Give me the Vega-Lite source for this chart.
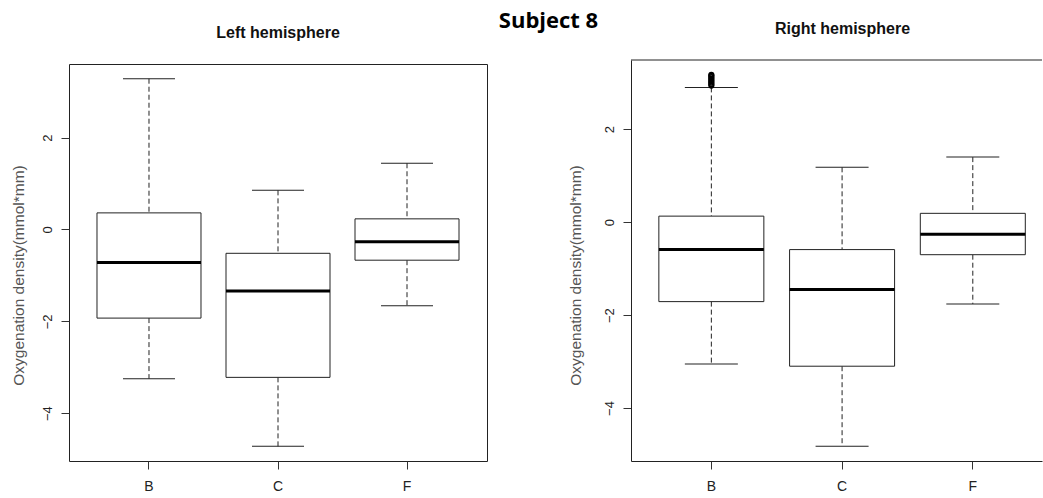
{
  "$schema": "https://vega.github.io/schema/vega-lite/v6.json",
  "background": "white",
  "padding": {"left": 10, "top": 9, "right": 0, "bottom": 0},
  "title": {"text": "Subject 8", "font": "Open Sans", "fontSize": 22, "fontWeight": "bold", "color": "#000", "anchor": "middle", "dx": 22, "offset": -12},
  "datasets": {
    "stats": [
      {"hemisphere": "Left", "group": "B", "lo": -3.25, "q1": -1.93, "med": -0.72, "q3": 0.36, "hi": 3.28},
      {"hemisphere": "Left", "group": "C", "lo": -4.72, "q1": -3.22, "med": -1.34, "q3": -0.52, "hi": 0.85},
      {"hemisphere": "Left", "group": "F", "lo": -1.66, "q1": -0.67, "med": -0.27, "q3": 0.23, "hi": 1.44},
      {"hemisphere": "Right", "group": "B", "lo": -3.05, "q1": -1.71, "med": -0.59, "q3": 0.13, "hi": 2.9},
      {"hemisphere": "Right", "group": "C", "lo": -4.82, "q1": -3.1, "med": -1.45, "q3": -0.59, "hi": 1.18},
      {"hemisphere": "Right", "group": "F", "lo": -1.76, "q1": -0.7, "med": -0.26, "q3": 0.19, "hi": 1.4}
    ],
    "outliers": [
      {"group": "B", "value": 2.94},
      {"group": "B", "value": 2.97},
      {"group": "B", "value": 3.0},
      {"group": "B", "value": 3.03},
      {"group": "B", "value": 3.06},
      {"group": "B", "value": 3.09},
      {"group": "B", "value": 3.12},
      {"group": "B", "value": 3.15},
      {"group": "B", "value": 3.17}
    ]
  },
  "spacing": 80,
  "hconcat": [
    {
      "width": 418,
      "height": 397,
      "title": {"text": "Left hemisphere", "offset": 23},
      "data": {"name": "stats"},
      "transform": [{"filter": "datum.hemisphere === 'Left'"}],
      "encoding": {
        "x": {"field": "group", "type": "nominal", "title": null,
              "scale": {"type": "band", "paddingInner": 0.194, "paddingOuter": 0.217},
              "axis": {"labelAngle": 0, "labelPadding": 10}}
      },
      "layer": [
        {"mark": {"type": "rule", "color": "#222", "strokeDash": [5, 3]},
         "encoding": {"y": {"field": "hi", "type": "quantitative", "title": "Oxygenation density(mmol*mm)",
                            "scale": {"domain": [-5.04, 3.6], "nice": false, "zero": false},
                            "axis": {"values": [-4, -2, 0, 2], "labelAngle": 270, "labelAlign": "center", "labelBaseline": "bottom", "labelPadding": 7, "titlePadding": 15, "titleY": 211}},
                      "y2": {"field": "q3"}}},
        {"mark": {"type": "rule", "color": "#222", "strokeDash": [5, 3]},
         "encoding": {"y": {"field": "q1", "type": "quantitative", "title": "Oxygenation density(mmol*mm)"}, "y2": {"field": "lo"}}},
        {"mark": {"type": "bar", "size": 104, "fill": "white", "stroke": "#222", "strokeWidth": 1},
         "encoding": {"y": {"field": "q1", "type": "quantitative", "title": "Oxygenation density(mmol*mm)"}, "y2": {"field": "q3"}}},
        {"mark": {"type": "tick", "size": 52, "thickness": 1, "color": "#222", "opacity": 1},
         "encoding": {"y": {"field": "hi", "type": "quantitative", "title": "Oxygenation density(mmol*mm)"}}},
        {"mark": {"type": "tick", "size": 52, "thickness": 1, "color": "#222", "opacity": 1},
         "encoding": {"y": {"field": "lo", "type": "quantitative", "title": "Oxygenation density(mmol*mm)"}}},
        {"mark": {"type": "tick", "size": 104, "thickness": 3, "color": "#000", "opacity": 1},
         "encoding": {"y": {"field": "med", "type": "quantitative", "title": "Oxygenation density(mmol*mm)"}}}
      ]
    },
    {
      "width": 411,
      "height": 397,
      "title": {"text": "Right hemisphere", "offset": 23, "dx": 6},
      "view": {"stroke": null},
      "layer": [
        {"data": {"name": "stats"},
         "transform": [{"filter": "datum.hemisphere === 'Right'"}],
         "mark": {"type": "rule", "color": "#222", "strokeDash": [5, 3]},
         "encoding": {"x": {"field": "group", "type": "nominal", "title": null,
                            "scale": {"type": "band", "paddingInner": 0.192, "paddingOuter": 0.168, "align": 0.627},
                            "axis": {"labelAngle": 0, "labelPadding": 10, "domain": true, "domainColor": "#222"}},
                      "y": {"field": "hi", "type": "quantitative", "title": "Oxygenation density(mmol*mm)",
                            "scale": {"domain": [-5.14, 3.49], "range": [397, -4], "nice": false, "zero": false},
                            "axis": {"values": [-4, -2, 0, 2], "labelAngle": 270, "labelAlign": "center", "labelBaseline": "bottom", "labelPadding": 7, "titlePadding": 20, "titleY": 211, "domain": true, "domainColor": "#222"}},
                      "y2": {"field": "q3"}}},
        {"data": {"name": "stats"},
         "transform": [{"filter": "datum.hemisphere === 'Right'"}],
         "mark": {"type": "rule", "color": "#222", "strokeDash": [5, 3]},
         "encoding": {"x": {"field": "group", "type": "nominal", "title": null},
                      "y": {"field": "q1", "type": "quantitative", "title": "Oxygenation density(mmol*mm)"}, "y2": {"field": "lo"}}},
        {"data": {"name": "stats"},
         "transform": [{"filter": "datum.hemisphere === 'Right'"}],
         "mark": {"type": "bar", "size": 105, "fill": "white", "stroke": "#222", "strokeWidth": 1},
         "encoding": {"x": {"field": "group", "type": "nominal", "title": null},
                      "y": {"field": "q1", "type": "quantitative", "title": "Oxygenation density(mmol*mm)"}, "y2": {"field": "q3"}}},
        {"data": {"name": "stats"},
         "transform": [{"filter": "datum.hemisphere === 'Right'"}],
         "mark": {"type": "tick", "size": 53, "thickness": 1, "color": "#222", "opacity": 1},
         "encoding": {"x": {"field": "group", "type": "nominal", "title": null},
                      "y": {"field": "hi", "type": "quantitative", "title": "Oxygenation density(mmol*mm)"}}},
        {"data": {"name": "stats"},
         "transform": [{"filter": "datum.hemisphere === 'Right'"}],
         "mark": {"type": "tick", "size": 53, "thickness": 1, "color": "#222", "opacity": 1},
         "encoding": {"x": {"field": "group", "type": "nominal", "title": null},
                      "y": {"field": "lo", "type": "quantitative", "title": "Oxygenation density(mmol*mm)"}}},
        {"data": {"name": "stats"},
         "transform": [{"filter": "datum.hemisphere === 'Right'"}],
         "mark": {"type": "tick", "size": 105, "thickness": 3, "color": "#000", "opacity": 1},
         "encoding": {"x": {"field": "group", "type": "nominal", "title": null},
                      "y": {"field": "med", "type": "quantitative", "title": "Oxygenation density(mmol*mm)"}}},
        {"data": {"name": "outliers"},
         "mark": {"type": "point", "shape": "circle", "filled": false, "size": 22, "strokeWidth": 1.5, "color": "#000", "opacity": 1},
         "encoding": {"x": {"field": "group", "type": "nominal", "title": null},
                      "y": {"field": "value", "type": "quantitative", "title": "Oxygenation density(mmol*mm)"}}},
        {"data": {"values": [{}]},
         "mark": {"type": "rule", "color": "#222", "strokeWidth": 1},
         "encoding": {"y": {"datum": 3.49, "type": "quantitative"}}}
      ]
    }
  ],
  "config": {
    "view": {"stroke": "#222", "strokeWidth": 1},
    "axis": {"labelFont": "Liberation Sans", "labelFontSize": 13, "labelColor": "#222", "tickColor": "#333", "tickSize": 8, "domain": false, "grid": false,
             "titleFont": "Liberation Sans", "titleFontWeight": "normal", "titleColor": "#555", "titleFontSize": 15.5},
    "axisX": {"labelFontSize": 14},
    "title": {"font": "Liberation Sans", "fontSize": 16, "fontWeight": "bold", "color": "#111"}
  }
}
